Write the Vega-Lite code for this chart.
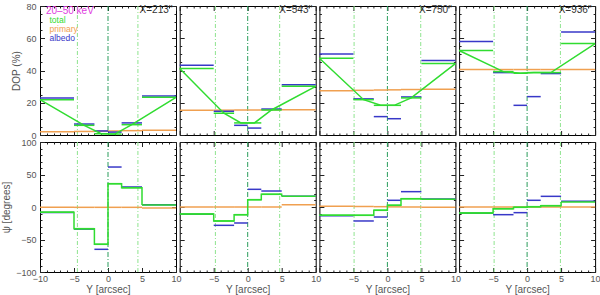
{
"$schema":"https://vega.github.io/schema/vega-lite/v6.json",
"background":"white",
"padding":{"left":1,"top":1,"right":1,"bottom":0},
"datasets":{
"bins":[
{"p":213,"q":"DOP","x0":-10,"x1":-5,"xc":-10,"total":21.9,"albedo":23.0,"primary":2.0},
{"p":213,"q":"DOP","x0":-5,"x1":-2,"xc":-3.5,"total":6.0,"albedo":6.8,"primary":2.2},
{"p":213,"q":"DOP","x0":-2,"x1":0,"xc":-1,"total":0.8,"albedo":2.5,"primary":2.4},
{"p":213,"q":"DOP","x0":0,"x1":2,"xc":1,"total":0.6,"albedo":1.8,"primary":2.5},
{"p":213,"q":"DOP","x0":2,"x1":5,"xc":3.5,"total":6.4,"albedo":7.5,"primary":2.7},
{"p":213,"q":"DOP","x0":5,"x1":10,"xc":10,"total":23.4,"albedo":24.2,"primary":3.0},
{"p":543,"q":"DOP","x0":-10,"x1":-5,"xc":-10,"total":41.2,"albedo":43.3,"primary":15.3},
{"p":543,"q":"DOP","x0":-5,"x1":-2,"xc":-3.5,"total":13.5,"albedo":14.7,"primary":15.4},
{"p":543,"q":"DOP","x0":-2,"x1":0,"xc":-1,"total":7.5,"albedo":6.0,"primary":15.5},
{"p":543,"q":"DOP","x0":0,"x1":2,"xc":1,"total":7.5,"albedo":4.3,"primary":15.5},
{"p":543,"q":"DOP","x0":2,"x1":5,"xc":3.5,"total":15.5,"albedo":16.1,"primary":15.6},
{"p":543,"q":"DOP","x0":5,"x1":10,"xc":10,"total":30.2,"albedo":31.1,"primary":15.7},
{"p":750,"q":"DOP","x0":-10,"x1":-5,"xc":-10,"total":47.6,"albedo":50.3,"primary":27.5},
{"p":750,"q":"DOP","x0":-5,"x1":-2,"xc":-3.5,"total":21.9,"albedo":22.4,"primary":27.7},
{"p":750,"q":"DOP","x0":-2,"x1":0,"xc":-1,"total":18.4,"albedo":11.4,"primary":27.9},
{"p":750,"q":"DOP","x0":0,"x1":2,"xc":1,"total":18.4,"albedo":10.1,"primary":28.0},
{"p":750,"q":"DOP","x0":2,"x1":5,"xc":3.5,"total":23.0,"albedo":23.6,"primary":28.2},
{"p":750,"q":"DOP","x0":5,"x1":10,"xc":10,"total":44.3,"albedo":46.2,"primary":28.4},
{"p":936,"q":"DOP","x0":-10,"x1":-5,"xc":-10,"total":52.4,"albedo":58.0,"primary":40.6},
{"p":936,"q":"DOP","x0":-5,"x1":-2,"xc":-3.5,"total":39.3,"albedo":38.7,"primary":40.6},
{"p":936,"q":"DOP","x0":-2,"x1":0,"xc":-1,"total":38.3,"albedo":18.4,"primary":40.6},
{"p":936,"q":"DOP","x0":0,"x1":2,"xc":1,"total":38.7,"albedo":23.8,"primary":40.6},
{"p":936,"q":"DOP","x0":2,"x1":5,"xc":3.5,"total":38.7,"albedo":38.1,"primary":40.6},
{"p":936,"q":"DOP","x0":5,"x1":10,"xc":10,"total":56.7,"albedo":63.8,"primary":40.6},
{"p":213,"q":"psi","x0":-10,"x1":-5,"xc":-10,"total":-8.2,"albedo":-8.5,"primary":-0.5},
{"p":213,"q":"psi","x0":-5,"x1":-2,"xc":-3.5,"total":-33.3,"albedo":-34.0,"primary":-0.5},
{"p":213,"q":"psi","x0":-2,"x1":0,"xc":-1,"total":-57.4,"albedo":-65.1,"primary":-0.5},
{"p":213,"q":"psi","x0":0,"x1":2,"xc":1,"total":35.9,"albedo":61.5,"primary":-0.5},
{"p":213,"q":"psi","x0":2,"x1":5,"xc":3.5,"total":29.7,"albedo":30.8,"primary":-0.5},
{"p":213,"q":"psi","x0":5,"x1":10,"xc":10,"total":3.1,"albedo":3.6,"primary":-1.5},
{"p":543,"q":"psi","x0":-10,"x1":-5,"xc":-10,"total":-10.8,"albedo":-11.0,"primary":0.0},
{"p":543,"q":"psi","x0":-5,"x1":-2,"xc":-3.5,"total":-21.5,"albedo":-28.2,"primary":0.0},
{"p":543,"q":"psi","x0":-2,"x1":0,"xc":-1,"total":-11.8,"albedo":-24.6,"primary":0.0},
{"p":543,"q":"psi","x0":0,"x1":2,"xc":1,"total":11.3,"albedo":27.2,"primary":0.0},
{"p":543,"q":"psi","x0":2,"x1":5,"xc":3.5,"total":19.5,"albedo":24.6,"primary":0.0},
{"p":543,"q":"psi","x0":5,"x1":10,"xc":10,"total":16.4,"albedo":16.6,"primary":3.6},
{"p":750,"q":"psi","x0":-10,"x1":-5,"xc":-10,"total":-12.8,"albedo":-13.3,"primary":1.0},
{"p":750,"q":"psi","x0":-5,"x1":-2,"xc":-3.5,"total":-12.8,"albedo":-21.5,"primary":0.8},
{"p":750,"q":"psi","x0":-2,"x1":0,"xc":-1,"total":-5.1,"albedo":-15.4,"primary":0.5},
{"p":750,"q":"psi","x0":0,"x1":2,"xc":1,"total":2.6,"albedo":10.3,"primary":0.2},
{"p":750,"q":"psi","x0":2,"x1":5,"xc":3.5,"total":12.8,"albedo":23.6,"primary":0.0},
{"p":750,"q":"psi","x0":5,"x1":10,"xc":10,"total":11.8,"albedo":12.2,"primary":-0.5},
{"p":936,"q":"psi","x0":-10,"x1":-5,"xc":-10,"total":-9.2,"albedo":-9.7,"primary":0.0},
{"p":936,"q":"psi","x0":-5,"x1":-2,"xc":-3.5,"total":-2.6,"albedo":-11.8,"primary":0.0},
{"p":936,"q":"psi","x0":-2,"x1":0,"xc":-1,"total":-0.5,"albedo":-8.7,"primary":0.0},
{"p":936,"q":"psi","x0":0,"x1":2,"xc":1,"total":0.5,"albedo":10.3,"primary":0.0},
{"p":936,"q":"psi","x0":2,"x1":5,"xc":3.5,"total":2.1,"albedo":16.4,"primary":0.0},
{"p":936,"q":"psi","x0":5,"x1":10,"xc":10,"total":7.7,"albedo":8.7,"primary":0.0}
],
"vl":[
{"p":213,"k":"s","vx":-4.5},{"p":213,"k":"c","vx":0},{"p":213,"k":"s","vx":4.4},
{"p":543,"k":"s","vx":-4.75},{"p":543,"k":"c","vx":0},{"p":543,"k":"s","vx":4.7},
{"p":750,"k":"s","vx":-4.9},{"p":750,"k":"c","vx":0},{"p":750,"k":"s","vx":4.9},
{"p":936,"k":"s","vx":-4.85},{"p":936,"k":"c","vx":0},{"p":936,"k":"s","vx":4.9}
],
"labs":[
{"p":213,"label":"X=213''"},{"p":543,"label":"X=543''"},{"p":750,"label":"X=750''"},{"p":936,"label":"X=936''"}
]
},
"columns":4,
"spacing":{"row":7,"column":3.7},
"bounds":"flush",
"concat":[
{"width":136,"height":129,"resolve":{"axis":{"x":"independent","y":"independent"}},"layer":[
{"data":{"name":"vl"},"transform":[{"filter":"datum.p==213 && datum.k=='s'"}],"mark":{"type":"rule","color":"#8fe48f","strokeWidth":1,"strokeDash":[4,2,1,2]},"encoding":{"x":{"field":"vx","type":"quantitative","scale":{"domain":[-10,10],"nice":false,"zero":false},"axis":null}}},
{"data":{"name":"vl"},"transform":[{"filter":"datum.p==213 && datum.k=='c'"}],"mark":{"type":"rule","color":"#2a9d5c","strokeWidth":1,"strokeDash":[5,2,1,2]},"encoding":{"x":{"field":"vx","type":"quantitative","axis":null}}},
{"data":{"name":"bins"},"transform":[{"filter":"datum.p==213 && datum.q=='DOP'"}],"mark":{"type":"rule","strokeWidth":1.5},"encoding":{"x":{"field":"x0","type":"quantitative","axis":{"orient":"bottom","values":[-10,-5,0,5,10],"tickSize":-4.5,"labels":false,"title":null}},"x2":{"field":"x1"},"y":{"field":"primary","type":"quantitative","scale":{"domain":[0,80],"nice":false,"zero":false},"axis":{"orient":"left","values":[0,20,40,60,80],"tickSize":-4.5,"labelPadding":8.5,"title":"DOP (%)","titlePadding":4,"maxExtent":60}},"color":{"datum":"primary","scale":{"domain":["total","primary","albedo"],"range":["#30dc30","#f0a050","#3838c8"]},"legend":{"title":"20–50 keV","orient":"none","legendX":6,"legendY":0,"titleColor":"#e03ce0","titleFont":"Liberation Sans","titleFontSize":10,"titleFontWeight":"normal","titlePadding":0,"labelFont":"Liberation Sans","labelFontSize":8.5,"symbolSize":0,"symbolStrokeWidth":0,"symbolOpacity":0,"labelOffset":-5,"rowPadding":-3,"padding":0,"encode":{"labels":{"update":{"fill":{"scale":"color","field":"value"}}}}}}}},
{"data":{"name":"bins"},"transform":[{"filter":"datum.p==213 && datum.q=='DOP'"}],"mark":{"type":"rule","strokeWidth":1.5},"encoding":{"x":{"field":"x0","type":"quantitative","axis":{"orient":"bottom","values":[-9,-8,-7,-6,-4,-3,-2,-1,1,2,3,4,6,7,8,9],"tickSize":-2,"labels":false,"title":null}},"x2":{"field":"x1"},"y":{"field":"albedo","type":"quantitative","axis":{"orient":"left","values":[5,10,15,25,30,35,45,50,55,65,70,75],"tickSize":-2,"labels":false,"title":null}},"color":{"datum":"albedo"}}},
{"data":{"name":"bins"},"transform":[{"filter":"datum.p==213 && datum.q=='DOP'"}],"mark":{"type":"rule","strokeWidth":1.5},"encoding":{"x":{"field":"x0","type":"quantitative","axis":{"orient":"top","values":[-10,-5,0,5,10],"tickSize":-4.5,"labels":false,"title":null}},"x2":{"field":"x1"},"y":{"field":"total","type":"quantitative","axis":{"orient":"right","values":[0,20,40,60,80],"tickSize":-4.5,"labels":false,"title":null}},"color":{"datum":"total"}}},
{"data":{"name":"bins"},"transform":[{"filter":"datum.p==213 && datum.q=='DOP'"}],"mark":{"type":"line","strokeWidth":1.5},"encoding":{"x":{"field":"xc","type":"quantitative","axis":{"orient":"top","values":[-9,-8,-7,-6,-4,-3,-2,-1,1,2,3,4,6,7,8,9],"tickSize":-2,"labels":false,"title":null}},"y":{"field":"total","type":"quantitative","axis":{"orient":"right","values":[5,10,15,25,30,35,45,50,55,65,70,75],"tickSize":-2,"labels":false,"title":null}},"color":{"datum":"total"}}},
{"data":{"name":"labs"},"transform":[{"filter":"datum.p==213"}],"mark":{"type":"text","align":"right","baseline":"middle","fontSize":10,"color":"#333","font":"Liberation Sans"},"encoding":{"x":{"datum":9.5,"type":"quantitative","axis":null},"y":{"datum":77.5,"type":"quantitative","axis":null},"text":{"field":"label"}}}
]},
{"width":136,"height":129,"resolve":{"axis":{"x":"independent","y":"independent"}},"layer":[
{"data":{"name":"vl"},"transform":[{"filter":"datum.p==543 && datum.k=='s'"}],"mark":{"type":"rule","color":"#8fe48f","strokeWidth":1,"strokeDash":[4,2,1,2]},"encoding":{"x":{"field":"vx","type":"quantitative","scale":{"domain":[-10,10],"nice":false,"zero":false},"axis":null}}},
{"data":{"name":"vl"},"transform":[{"filter":"datum.p==543 && datum.k=='c'"}],"mark":{"type":"rule","color":"#2a9d5c","strokeWidth":1,"strokeDash":[5,2,1,2]},"encoding":{"x":{"field":"vx","type":"quantitative","axis":null}}},
{"data":{"name":"bins"},"transform":[{"filter":"datum.p==543 && datum.q=='DOP'"}],"mark":{"type":"rule","strokeWidth":1.5,"color":"#f0a050"},"encoding":{"x":{"field":"x0","type":"quantitative","axis":{"orient":"bottom","values":[-10,-5,0,5,10],"tickSize":-4.5,"labels":false,"title":null}},"x2":{"field":"x1"},"y":{"field":"primary","type":"quantitative","scale":{"domain":[0,80],"nice":false,"zero":false},"axis":{"orient":"left","values":[0,20,40,60,80],"tickSize":-4.5,"labels":false,"title":null}}}},
{"data":{"name":"bins"},"transform":[{"filter":"datum.p==543 && datum.q=='DOP'"}],"mark":{"type":"rule","strokeWidth":1.5,"color":"#3838c8"},"encoding":{"x":{"field":"x0","type":"quantitative","axis":{"orient":"bottom","values":[-9,-8,-7,-6,-4,-3,-2,-1,1,2,3,4,6,7,8,9],"tickSize":-2,"labels":false,"title":null}},"x2":{"field":"x1"},"y":{"field":"albedo","type":"quantitative","axis":{"orient":"left","values":[5,10,15,25,30,35,45,50,55,65,70,75],"tickSize":-2,"labels":false,"title":null}}}},
{"data":{"name":"bins"},"transform":[{"filter":"datum.p==543 && datum.q=='DOP'"}],"mark":{"type":"rule","strokeWidth":1.5,"color":"#30dc30"},"encoding":{"x":{"field":"x0","type":"quantitative","axis":{"orient":"top","values":[-10,-5,0,5,10],"tickSize":-4.5,"labels":false,"title":null}},"x2":{"field":"x1"},"y":{"field":"total","type":"quantitative","axis":{"orient":"right","values":[0,20,40,60,80],"tickSize":-4.5,"labels":false,"title":null}}}},
{"data":{"name":"bins"},"transform":[{"filter":"datum.p==543 && datum.q=='DOP'"}],"mark":{"type":"line","strokeWidth":1.5,"color":"#30dc30"},"encoding":{"x":{"field":"xc","type":"quantitative","axis":{"orient":"top","values":[-9,-8,-7,-6,-4,-3,-2,-1,1,2,3,4,6,7,8,9],"tickSize":-2,"labels":false,"title":null}},"y":{"field":"total","type":"quantitative","axis":{"orient":"right","values":[5,10,15,25,30,35,45,50,55,65,70,75],"tickSize":-2,"labels":false,"title":null}}}},
{"data":{"name":"labs"},"transform":[{"filter":"datum.p==543"}],"mark":{"type":"text","align":"right","baseline":"middle","fontSize":10,"color":"#333","font":"Liberation Sans"},"encoding":{"x":{"datum":9.5,"type":"quantitative","axis":null},"y":{"datum":77.5,"type":"quantitative","axis":null},"text":{"field":"label"}}}
]},
{"width":136,"height":129,"resolve":{"axis":{"x":"independent","y":"independent"}},"layer":[
{"data":{"name":"vl"},"transform":[{"filter":"datum.p==750 && datum.k=='s'"}],"mark":{"type":"rule","color":"#8fe48f","strokeWidth":1,"strokeDash":[4,2,1,2]},"encoding":{"x":{"field":"vx","type":"quantitative","scale":{"domain":[-10,10],"nice":false,"zero":false},"axis":null}}},
{"data":{"name":"vl"},"transform":[{"filter":"datum.p==750 && datum.k=='c'"}],"mark":{"type":"rule","color":"#2a9d5c","strokeWidth":1,"strokeDash":[5,2,1,2]},"encoding":{"x":{"field":"vx","type":"quantitative","axis":null}}},
{"data":{"name":"bins"},"transform":[{"filter":"datum.p==750 && datum.q=='DOP'"}],"mark":{"type":"rule","strokeWidth":1.5,"color":"#f0a050"},"encoding":{"x":{"field":"x0","type":"quantitative","axis":{"orient":"bottom","values":[-10,-5,0,5,10],"tickSize":-4.5,"labels":false,"title":null}},"x2":{"field":"x1"},"y":{"field":"primary","type":"quantitative","scale":{"domain":[0,80],"nice":false,"zero":false},"axis":{"orient":"left","values":[0,20,40,60,80],"tickSize":-4.5,"labels":false,"title":null}}}},
{"data":{"name":"bins"},"transform":[{"filter":"datum.p==750 && datum.q=='DOP'"}],"mark":{"type":"rule","strokeWidth":1.5,"color":"#3838c8"},"encoding":{"x":{"field":"x0","type":"quantitative","axis":{"orient":"bottom","values":[-9,-8,-7,-6,-4,-3,-2,-1,1,2,3,4,6,7,8,9],"tickSize":-2,"labels":false,"title":null}},"x2":{"field":"x1"},"y":{"field":"albedo","type":"quantitative","axis":{"orient":"left","values":[5,10,15,25,30,35,45,50,55,65,70,75],"tickSize":-2,"labels":false,"title":null}}}},
{"data":{"name":"bins"},"transform":[{"filter":"datum.p==750 && datum.q=='DOP'"}],"mark":{"type":"rule","strokeWidth":1.5,"color":"#30dc30"},"encoding":{"x":{"field":"x0","type":"quantitative","axis":{"orient":"top","values":[-10,-5,0,5,10],"tickSize":-4.5,"labels":false,"title":null}},"x2":{"field":"x1"},"y":{"field":"total","type":"quantitative","axis":{"orient":"right","values":[0,20,40,60,80],"tickSize":-4.5,"labels":false,"title":null}}}},
{"data":{"name":"bins"},"transform":[{"filter":"datum.p==750 && datum.q=='DOP'"}],"mark":{"type":"line","strokeWidth":1.5,"color":"#30dc30"},"encoding":{"x":{"field":"xc","type":"quantitative","axis":{"orient":"top","values":[-9,-8,-7,-6,-4,-3,-2,-1,1,2,3,4,6,7,8,9],"tickSize":-2,"labels":false,"title":null}},"y":{"field":"total","type":"quantitative","axis":{"orient":"right","values":[5,10,15,25,30,35,45,50,55,65,70,75],"tickSize":-2,"labels":false,"title":null}}}},
{"data":{"name":"labs"},"transform":[{"filter":"datum.p==750"}],"mark":{"type":"text","align":"right","baseline":"middle","fontSize":10,"color":"#333","font":"Liberation Sans"},"encoding":{"x":{"datum":9.5,"type":"quantitative","axis":null},"y":{"datum":77.5,"type":"quantitative","axis":null},"text":{"field":"label"}}}
]},
{"width":136,"height":129,"resolve":{"axis":{"x":"independent","y":"independent"}},"layer":[
{"data":{"name":"vl"},"transform":[{"filter":"datum.p==936 && datum.k=='s'"}],"mark":{"type":"rule","color":"#8fe48f","strokeWidth":1,"strokeDash":[4,2,1,2]},"encoding":{"x":{"field":"vx","type":"quantitative","scale":{"domain":[-10,10],"nice":false,"zero":false},"axis":null}}},
{"data":{"name":"vl"},"transform":[{"filter":"datum.p==936 && datum.k=='c'"}],"mark":{"type":"rule","color":"#2a9d5c","strokeWidth":1,"strokeDash":[5,2,1,2]},"encoding":{"x":{"field":"vx","type":"quantitative","axis":null}}},
{"data":{"name":"bins"},"transform":[{"filter":"datum.p==936 && datum.q=='DOP'"}],"mark":{"type":"rule","strokeWidth":1.5,"color":"#f0a050"},"encoding":{"x":{"field":"x0","type":"quantitative","axis":{"orient":"bottom","values":[-10,-5,0,5,10],"tickSize":-4.5,"labels":false,"title":null}},"x2":{"field":"x1"},"y":{"field":"primary","type":"quantitative","scale":{"domain":[0,80],"nice":false,"zero":false},"axis":{"orient":"left","values":[0,20,40,60,80],"tickSize":-4.5,"labels":false,"title":null}}}},
{"data":{"name":"bins"},"transform":[{"filter":"datum.p==936 && datum.q=='DOP'"}],"mark":{"type":"rule","strokeWidth":1.5,"color":"#3838c8"},"encoding":{"x":{"field":"x0","type":"quantitative","axis":{"orient":"bottom","values":[-9,-8,-7,-6,-4,-3,-2,-1,1,2,3,4,6,7,8,9],"tickSize":-2,"labels":false,"title":null}},"x2":{"field":"x1"},"y":{"field":"albedo","type":"quantitative","axis":{"orient":"left","values":[5,10,15,25,30,35,45,50,55,65,70,75],"tickSize":-2,"labels":false,"title":null}}}},
{"data":{"name":"bins"},"transform":[{"filter":"datum.p==936 && datum.q=='DOP'"}],"mark":{"type":"rule","strokeWidth":1.5,"color":"#30dc30"},"encoding":{"x":{"field":"x0","type":"quantitative","axis":{"orient":"top","values":[-10,-5,0,5,10],"tickSize":-4.5,"labels":false,"title":null}},"x2":{"field":"x1"},"y":{"field":"total","type":"quantitative","axis":{"orient":"right","values":[0,20,40,60,80],"tickSize":-4.5,"labels":false,"title":null}}}},
{"data":{"name":"bins"},"transform":[{"filter":"datum.p==936 && datum.q=='DOP'"}],"mark":{"type":"line","strokeWidth":1.5,"color":"#30dc30"},"encoding":{"x":{"field":"xc","type":"quantitative","axis":{"orient":"top","values":[-9,-8,-7,-6,-4,-3,-2,-1,1,2,3,4,6,7,8,9],"tickSize":-2,"labels":false,"title":null}},"y":{"field":"total","type":"quantitative","axis":{"orient":"right","values":[5,10,15,25,30,35,45,50,55,65,70,75],"tickSize":-2,"labels":false,"title":null}}}},
{"data":{"name":"labs"},"transform":[{"filter":"datum.p==936"}],"mark":{"type":"text","align":"right","baseline":"middle","fontSize":10,"color":"#333","font":"Liberation Sans"},"encoding":{"x":{"datum":9.5,"type":"quantitative","axis":null},"y":{"datum":77.5,"type":"quantitative","axis":null},"text":{"field":"label"}}}
]},
{"width":136,"height":130,"resolve":{"axis":{"x":"independent","y":"independent"}},"layer":[
{"data":{"name":"vl"},"transform":[{"filter":"datum.p==213 && datum.k=='s'"}],"mark":{"type":"rule","color":"#8fe48f","strokeWidth":1,"strokeDash":[4,2,1,2]},"encoding":{"x":{"field":"vx","type":"quantitative","scale":{"domain":[-10,10],"nice":false,"zero":false},"axis":null}}},
{"data":{"name":"vl"},"transform":[{"filter":"datum.p==213 && datum.k=='c'"}],"mark":{"type":"rule","color":"#2a9d5c","strokeWidth":1,"strokeDash":[5,2,1,2]},"encoding":{"x":{"field":"vx","type":"quantitative","axis":null}}},
{"data":{"name":"bins"},"transform":[{"filter":"datum.p==213 && datum.q=='psi'"}],"mark":{"type":"rule","strokeWidth":1.5,"color":"#f0a050"},"encoding":{"x":{"field":"x0","type":"quantitative","axis":{"orient":"bottom","values":[-10,-5,0,5,10],"tickSize":-4.5,"labelPadding":7,"title":"Y [arcsec]","titlePadding":1,"maxExtent":60}},"x2":{"field":"x1"},"y":{"field":"primary","type":"quantitative","scale":{"domain":[-100,100],"nice":false,"zero":false},"axis":{"orient":"left","values":[-100,-50,0,50,100],"tickSize":-4.5,"labelPadding":8.5,"title":"ψ [degrees]","titlePadding":4,"maxExtent":60}}}},
{"data":{"name":"bins"},"transform":[{"filter":"datum.p==213 && datum.q=='psi'"}],"mark":{"type":"rule","strokeWidth":1.5,"color":"#3838c8"},"encoding":{"x":{"field":"x0","type":"quantitative","axis":{"orient":"bottom","values":[-9,-8,-7,-6,-4,-3,-2,-1,1,2,3,4,6,7,8,9],"tickSize":-2,"labels":false,"title":null}},"x2":{"field":"x1"},"y":{"field":"albedo","type":"quantitative","axis":{"orient":"left","values":[-90,-80,-70,-60,-40,-30,-20,-10,10,20,30,40,60,70,80,90],"tickSize":-2,"labels":false,"title":null}}}},
{"data":{"name":"bins"},"transform":[{"filter":"datum.p==213 && datum.q=='psi'"}],"mark":{"type":"rule","strokeWidth":1.5,"color":"#30dc30"},"encoding":{"x":{"field":"x0","type":"quantitative","axis":{"orient":"top","values":[-10,-5,0,5,10],"tickSize":-4.5,"labels":false,"title":null}},"x2":{"field":"x1"},"y":{"field":"total","type":"quantitative","axis":{"orient":"right","values":[-100,-50,0,50,100],"tickSize":-4.5,"labels":false,"title":null}}}},
{"data":{"name":"bins"},"transform":[{"filter":"datum.p==213 && datum.q=='psi'"}],"mark":{"type":"line","interpolate":"step-after","strokeWidth":1.5,"color":"#30dc30"},"encoding":{"x":{"field":"x0","type":"quantitative","axis":{"orient":"top","values":[-9,-8,-7,-6,-4,-3,-2,-1,1,2,3,4,6,7,8,9],"tickSize":-2,"labels":false,"title":null}},"y":{"field":"total","type":"quantitative","axis":{"orient":"right","values":[-90,-80,-70,-60,-40,-30,-20,-10,10,20,30,40,60,70,80,90],"tickSize":-2,"labels":false,"title":null}}}}
]},
{"width":136,"height":130,"resolve":{"axis":{"x":"independent","y":"independent"}},"layer":[
{"data":{"name":"vl"},"transform":[{"filter":"datum.p==543 && datum.k=='s'"}],"mark":{"type":"rule","color":"#8fe48f","strokeWidth":1,"strokeDash":[4,2,1,2]},"encoding":{"x":{"field":"vx","type":"quantitative","scale":{"domain":[-10,10],"nice":false,"zero":false},"axis":null}}},
{"data":{"name":"vl"},"transform":[{"filter":"datum.p==543 && datum.k=='c'"}],"mark":{"type":"rule","color":"#2a9d5c","strokeWidth":1,"strokeDash":[5,2,1,2]},"encoding":{"x":{"field":"vx","type":"quantitative","axis":null}}},
{"data":{"name":"bins"},"transform":[{"filter":"datum.p==543 && datum.q=='psi'"}],"mark":{"type":"rule","strokeWidth":1.5,"color":"#f0a050"},"encoding":{"x":{"field":"x0","type":"quantitative","axis":{"orient":"bottom","values":[-10,-5,0,5,10],"tickSize":-4.5,"labelPadding":7,"labelExpr":"datum.value == -10 ? '' : datum.label","title":"Y [arcsec]","titlePadding":1,"maxExtent":60}},"x2":{"field":"x1"},"y":{"field":"primary","type":"quantitative","scale":{"domain":[-100,100],"nice":false,"zero":false},"axis":{"orient":"left","values":[-100,-50,0,50,100],"tickSize":-4.5,"labels":false,"title":null}}}},
{"data":{"name":"bins"},"transform":[{"filter":"datum.p==543 && datum.q=='psi'"}],"mark":{"type":"rule","strokeWidth":1.5,"color":"#3838c8"},"encoding":{"x":{"field":"x0","type":"quantitative","axis":{"orient":"bottom","values":[-9,-8,-7,-6,-4,-3,-2,-1,1,2,3,4,6,7,8,9],"tickSize":-2,"labels":false,"title":null}},"x2":{"field":"x1"},"y":{"field":"albedo","type":"quantitative","axis":{"orient":"left","values":[-90,-80,-70,-60,-40,-30,-20,-10,10,20,30,40,60,70,80,90],"tickSize":-2,"labels":false,"title":null}}}},
{"data":{"name":"bins"},"transform":[{"filter":"datum.p==543 && datum.q=='psi'"}],"mark":{"type":"rule","strokeWidth":1.5,"color":"#30dc30"},"encoding":{"x":{"field":"x0","type":"quantitative","axis":{"orient":"top","values":[-10,-5,0,5,10],"tickSize":-4.5,"labels":false,"title":null}},"x2":{"field":"x1"},"y":{"field":"total","type":"quantitative","axis":{"orient":"right","values":[-100,-50,0,50,100],"tickSize":-4.5,"labels":false,"title":null}}}},
{"data":{"name":"bins"},"transform":[{"filter":"datum.p==543 && datum.q=='psi'"}],"mark":{"type":"line","interpolate":"step-after","strokeWidth":1.5,"color":"#30dc30"},"encoding":{"x":{"field":"x0","type":"quantitative","axis":{"orient":"top","values":[-9,-8,-7,-6,-4,-3,-2,-1,1,2,3,4,6,7,8,9],"tickSize":-2,"labels":false,"title":null}},"y":{"field":"total","type":"quantitative","axis":{"orient":"right","values":[-90,-80,-70,-60,-40,-30,-20,-10,10,20,30,40,60,70,80,90],"tickSize":-2,"labels":false,"title":null}}}}
]},
{"width":136,"height":130,"resolve":{"axis":{"x":"independent","y":"independent"}},"layer":[
{"data":{"name":"vl"},"transform":[{"filter":"datum.p==750 && datum.k=='s'"}],"mark":{"type":"rule","color":"#8fe48f","strokeWidth":1,"strokeDash":[4,2,1,2]},"encoding":{"x":{"field":"vx","type":"quantitative","scale":{"domain":[-10,10],"nice":false,"zero":false},"axis":null}}},
{"data":{"name":"vl"},"transform":[{"filter":"datum.p==750 && datum.k=='c'"}],"mark":{"type":"rule","color":"#2a9d5c","strokeWidth":1,"strokeDash":[5,2,1,2]},"encoding":{"x":{"field":"vx","type":"quantitative","axis":null}}},
{"data":{"name":"bins"},"transform":[{"filter":"datum.p==750 && datum.q=='psi'"}],"mark":{"type":"rule","strokeWidth":1.5,"color":"#f0a050"},"encoding":{"x":{"field":"x0","type":"quantitative","axis":{"orient":"bottom","values":[-10,-5,0,5,10],"tickSize":-4.5,"labelPadding":7,"labelExpr":"datum.value == -10 ? '' : datum.label","title":"Y [arcsec]","titlePadding":1,"maxExtent":60}},"x2":{"field":"x1"},"y":{"field":"primary","type":"quantitative","scale":{"domain":[-100,100],"nice":false,"zero":false},"axis":{"orient":"left","values":[-100,-50,0,50,100],"tickSize":-4.5,"labels":false,"title":null}}}},
{"data":{"name":"bins"},"transform":[{"filter":"datum.p==750 && datum.q=='psi'"}],"mark":{"type":"rule","strokeWidth":1.5,"color":"#3838c8"},"encoding":{"x":{"field":"x0","type":"quantitative","axis":{"orient":"bottom","values":[-9,-8,-7,-6,-4,-3,-2,-1,1,2,3,4,6,7,8,9],"tickSize":-2,"labels":false,"title":null}},"x2":{"field":"x1"},"y":{"field":"albedo","type":"quantitative","axis":{"orient":"left","values":[-90,-80,-70,-60,-40,-30,-20,-10,10,20,30,40,60,70,80,90],"tickSize":-2,"labels":false,"title":null}}}},
{"data":{"name":"bins"},"transform":[{"filter":"datum.p==750 && datum.q=='psi'"}],"mark":{"type":"rule","strokeWidth":1.5,"color":"#30dc30"},"encoding":{"x":{"field":"x0","type":"quantitative","axis":{"orient":"top","values":[-10,-5,0,5,10],"tickSize":-4.5,"labels":false,"title":null}},"x2":{"field":"x1"},"y":{"field":"total","type":"quantitative","axis":{"orient":"right","values":[-100,-50,0,50,100],"tickSize":-4.5,"labels":false,"title":null}}}},
{"data":{"name":"bins"},"transform":[{"filter":"datum.p==750 && datum.q=='psi'"}],"mark":{"type":"line","interpolate":"step-after","strokeWidth":1.5,"color":"#30dc30"},"encoding":{"x":{"field":"x0","type":"quantitative","axis":{"orient":"top","values":[-9,-8,-7,-6,-4,-3,-2,-1,1,2,3,4,6,7,8,9],"tickSize":-2,"labels":false,"title":null}},"y":{"field":"total","type":"quantitative","axis":{"orient":"right","values":[-90,-80,-70,-60,-40,-30,-20,-10,10,20,30,40,60,70,80,90],"tickSize":-2,"labels":false,"title":null}}}}
]},
{"width":136,"height":130,"resolve":{"axis":{"x":"independent","y":"independent"}},"layer":[
{"data":{"name":"vl"},"transform":[{"filter":"datum.p==936 && datum.k=='s'"}],"mark":{"type":"rule","color":"#8fe48f","strokeWidth":1,"strokeDash":[4,2,1,2]},"encoding":{"x":{"field":"vx","type":"quantitative","scale":{"domain":[-10,10],"nice":false,"zero":false},"axis":null}}},
{"data":{"name":"vl"},"transform":[{"filter":"datum.p==936 && datum.k=='c'"}],"mark":{"type":"rule","color":"#2a9d5c","strokeWidth":1,"strokeDash":[5,2,1,2]},"encoding":{"x":{"field":"vx","type":"quantitative","axis":null}}},
{"data":{"name":"bins"},"transform":[{"filter":"datum.p==936 && datum.q=='psi'"}],"mark":{"type":"rule","strokeWidth":1.5,"color":"#f0a050"},"encoding":{"x":{"field":"x0","type":"quantitative","axis":{"orient":"bottom","values":[-10,-5,0,5,10],"tickSize":-4.5,"labelPadding":7,"labelExpr":"datum.value == -10 ? '' : datum.label","title":"Y [arcsec]","titlePadding":1,"maxExtent":60}},"x2":{"field":"x1"},"y":{"field":"primary","type":"quantitative","scale":{"domain":[-100,100],"nice":false,"zero":false},"axis":{"orient":"left","values":[-100,-50,0,50,100],"tickSize":-4.5,"labels":false,"title":null}}}},
{"data":{"name":"bins"},"transform":[{"filter":"datum.p==936 && datum.q=='psi'"}],"mark":{"type":"rule","strokeWidth":1.5,"color":"#3838c8"},"encoding":{"x":{"field":"x0","type":"quantitative","axis":{"orient":"bottom","values":[-9,-8,-7,-6,-4,-3,-2,-1,1,2,3,4,6,7,8,9],"tickSize":-2,"labels":false,"title":null}},"x2":{"field":"x1"},"y":{"field":"albedo","type":"quantitative","axis":{"orient":"left","values":[-90,-80,-70,-60,-40,-30,-20,-10,10,20,30,40,60,70,80,90],"tickSize":-2,"labels":false,"title":null}}}},
{"data":{"name":"bins"},"transform":[{"filter":"datum.p==936 && datum.q=='psi'"}],"mark":{"type":"rule","strokeWidth":1.5,"color":"#30dc30"},"encoding":{"x":{"field":"x0","type":"quantitative","axis":{"orient":"top","values":[-10,-5,0,5,10],"tickSize":-4.5,"labels":false,"title":null}},"x2":{"field":"x1"},"y":{"field":"total","type":"quantitative","axis":{"orient":"right","values":[-100,-50,0,50,100],"tickSize":-4.5,"labels":false,"title":null}}}},
{"data":{"name":"bins"},"transform":[{"filter":"datum.p==936 && datum.q=='psi'"}],"mark":{"type":"line","interpolate":"step-after","strokeWidth":1.5,"color":"#30dc30"},"encoding":{"x":{"field":"x0","type":"quantitative","axis":{"orient":"top","values":[-9,-8,-7,-6,-4,-3,-2,-1,1,2,3,4,6,7,8,9],"tickSize":-2,"labels":false,"title":null}},"y":{"field":"total","type":"quantitative","axis":{"orient":"right","values":[-90,-80,-70,-60,-40,-30,-20,-10,10,20,30,40,60,70,80,90],"tickSize":-2,"labels":false,"title":null}}}}
]}
],
"config":{
"view":{"stroke":"#000","strokeWidth":1},
"axis":{"domain":false,"grid":false,"labelFont":"Liberation Sans","labelFontSize":9,"labelColor":"#555","titleFont":"Liberation Sans","titleFontSize":10,"titleFontWeight":"normal","titleColor":"#555","tickColor":"#222","labelFlush":false,"labelOverlap":false,"minExtent":0,"maxExtent":0},
"text":{"font":"Liberation Sans"}
}
}
